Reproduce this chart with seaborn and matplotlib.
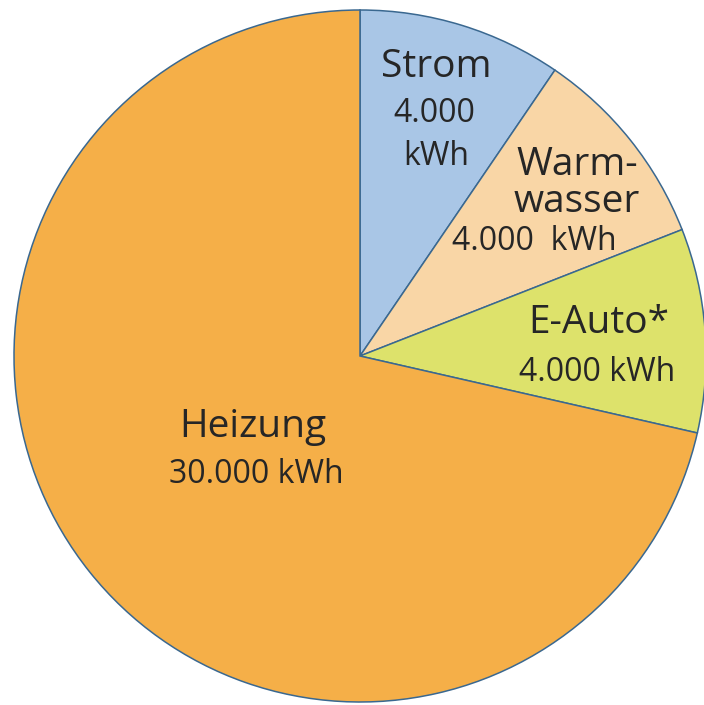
import matplotlib
matplotlib.use("Agg")
import matplotlib.pyplot as plt
import seaborn as sns

# Jahresverbrauch eines Haushalts nach Bereich
categories = ["Strom", "Warmwasser", "E-Auto*", "Heizung"]
values_kwh = [4000, 4000, 4000, 30000]
colors = ["#a9c6e6", "#f9d6a6", "#dde26b", "#f5af48"]

sns.set_theme(style="white")
plt.rcParams["font.family"] = ["Open Sans", "DejaVu Sans"]

W, H = 704, 705
fig = plt.figure(figsize=(W / 100, H / 100), dpi=100)
ax = fig.add_axes([0, 0, 1, 1])

cx, cy, r = 360, H - 356, 346
ax.pie(values_kwh, colors=colors, startangle=90, counterclock=False,
       center=(cx, cy), radius=r, frame=True,
       wedgeprops=dict(edgecolor="#3a6890", linewidth=1.1))
ax.set_xlim(0, W)
ax.set_ylim(0, H)
ax.set_aspect("equal")
ax.axis("off")


def fmt(v):
    return f"{v:,}".replace(",", ".")


txt = "#262626"
name_fs, val_fs = 28, 23


def put(x, y, s, fs):
    # y is measured from the top edge; text sits on its baseline
    ax.text(x, H - y, s, ha="center", va="baseline", fontsize=fs, color=txt)


# Strom
put(436, 77, categories[0], name_fs)
put(434, 122, fmt(values_kwh[0]), val_fs)
put(436, 165, "kWh", val_fs)
# Warmwasser (hyphenated over two lines)
put(577, 175, "Warm-", name_fs)
put(577, 212, "wasser", name_fs)
put(534, 250, fmt(values_kwh[1]) + "  kWh", val_fs)
# E-Auto
put(599, 333, categories[2], name_fs)
put(597, 381, fmt(values_kwh[2]) + " kWh", val_fs)
# Heizung
put(253, 437, categories[3], name_fs)
put(256, 483, fmt(values_kwh[3]) + " kWh", val_fs)

fig.savefig("out.png", dpi=100)
